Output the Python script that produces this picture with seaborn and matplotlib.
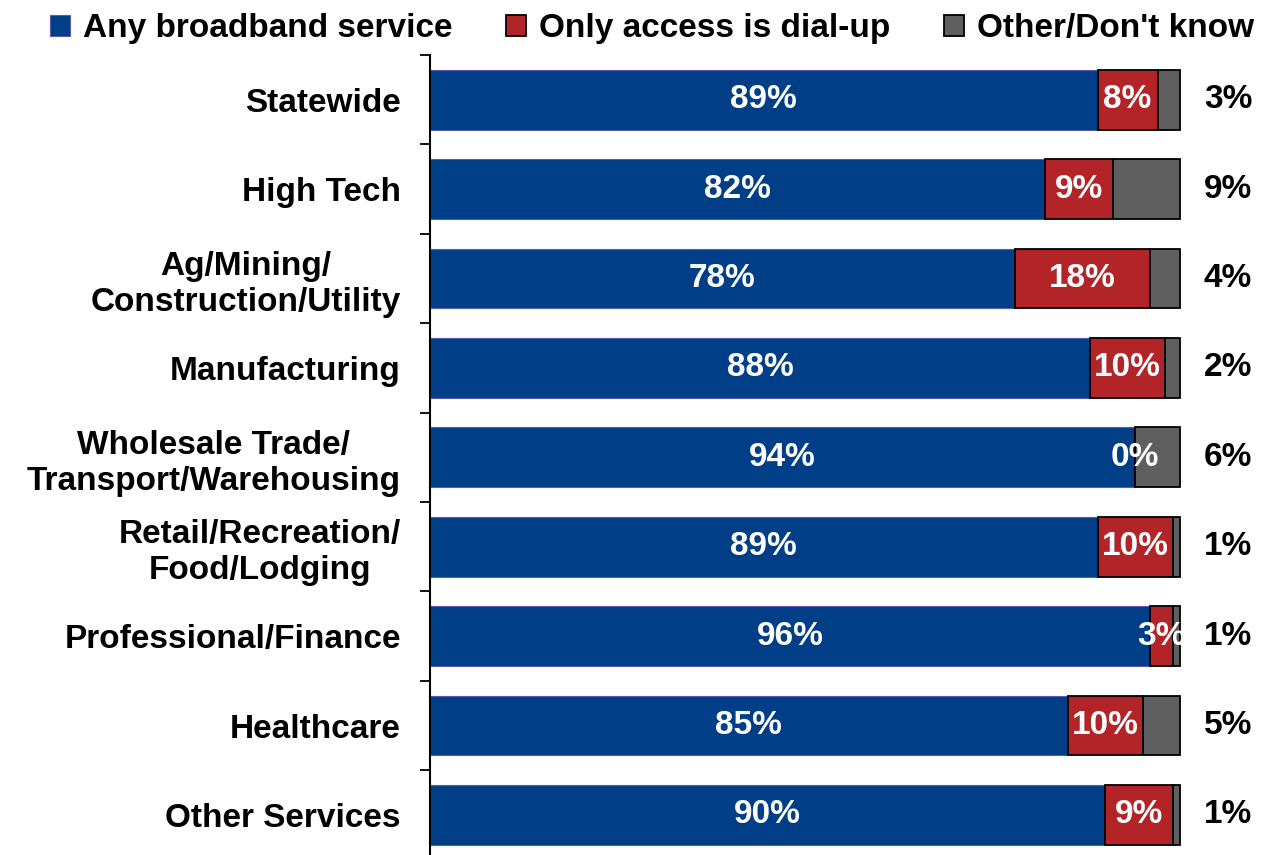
import numpy as np
import pandas as pd
import matplotlib
matplotlib.use('Agg')
import matplotlib.pyplot as plt
import seaborn as sns

sns.set_theme(style="white")
plt.rcParams['font.family'] = ['Liberation Sans', 'DejaVu Sans']
plt.rcParams['font.weight'] = 'bold'
plt.rcParams['text.color'] = 'black'
plt.rcParams['ytick.color'] = 'black'
plt.rcParams['ytick.labelcolor'] = 'black'

# ── Data ──────────────────────────────────────────────────
categories = ['Statewide', 'High Tech', 'Ag/Mining/\nConstruction/Utility',
              'Manufacturing', 'Wholesale Trade/\nTransport/Warehousing',
              'Retail/Recreation/\nFood/Lodging', 'Professional/Finance',
              'Healthcare', 'Other Services']
broadband = [89, 82, 78, 88, 94, 89, 96, 85, 90]
dialup    = [8, 9, 18, 10, 0, 10, 3, 10, 9]
other     = [3, 9, 4, 2, 6, 1, 1, 5, 1]

series_names = ['Any broadband service', 'Only access is dial-up', 'Other/Don\'t know']
COLORS = ['#003F87', '#B22428', '#5F5F5F']
FS = 24

df = pd.DataFrame({'cat': categories, 'broad': broadband,
                   'dial': dialup, 'other': other})
df['left_dial'] = df['broad']
df['left_other'] = df['broad'] + df['dial']

fig = plt.figure(figsize=(12.76, 8.55), dpi=100)
# axes: spine at x=430px, 100% at x=1180px, top at y=55px
x0, x100, W, H = 430, 1180, 1276, 855
slot = 89.4
ax_w = W - x0
ax_h = 9 * slot
ax = fig.add_axes([x0 / W, (H - 55 - ax_h) / H, ax_w / W, ax_h / H])

layers = [('broad', None, COLORS[0], '#5a5ab0', 0.8),
          ('dial', 'left_dial', COLORS[1], 'black', 1.3),
          ('other', 'left_other', COLORS[2], 'black', 1.3)]
for i, (col, left_col, color, ec, lw) in enumerate(layers):
    sns.barplot(data=df, x=col, y='cat', color=color, saturation=1,
                width=0.67, edgecolor=ec, linewidth=lw, ax=ax,
                label=series_names[i], orient='h')
    if left_col is not None:
        for p, left in zip(ax.containers[i].patches, df[left_col]):
            p.set_x(left)

# ── Value labels ──────────────────────────────────────────
for j, row in df.iterrows():
    ax.text(row['broad'] / 2, j, f"{row['broad']}%", ha='center', va='center',
            color='white', fontsize=FS, fontweight='bold')
    ax.text(row['broad'] + row['dial'] / 2, j, f"{row['dial']}%", ha='center',
            va='center', color='white', fontsize=FS, fontweight='bold')
    ax.text(106.4, j, f"{row['other']}%", ha='center', va='center',
            color='black', fontsize=FS, fontweight='bold')

ax.set_xlim(0, 100 * ax_w / (x100 - x0))
ax.set_ylim(8.5, -0.5)
ax.set_xlabel('')
ax.set_ylabel('')
ax.set_xticks([])
ax.set_yticks(range(len(categories)))
ax.set_yticklabels(categories, fontsize=FS, fontweight='bold',
                   multialignment='center', color='black')
ax.set_yticks(np.arange(-0.5, len(categories) - 0.4, 1.0), minor=True)
ax.tick_params(axis='y', which='major', length=0, pad=21)
ax.tick_params(axis='y', which='minor', length=7, width=1.3, color='black', left=True)
for s in ['top', 'right', 'bottom']:
    ax.spines[s].set_visible(False)
ax.spines['left'].set_color('black')
ax.spines['left'].set_linewidth(1.5)
ax.grid(False)

handles, labels = ax.get_legend_handles_labels()
leg = ax.get_legend()
if leg is not None:
    leg.remove()
fig.legend(handles, labels, loc='upper center', bbox_to_anchor=(0.511, 1.02),
           ncol=3, frameon=False, handlelength=0.6,
           handleheight=0.6, handletextpad=0.4, columnspacing=1.6,
           prop={'weight': 'bold', 'size': FS})

plt.savefig('out.png', dpi=100)
